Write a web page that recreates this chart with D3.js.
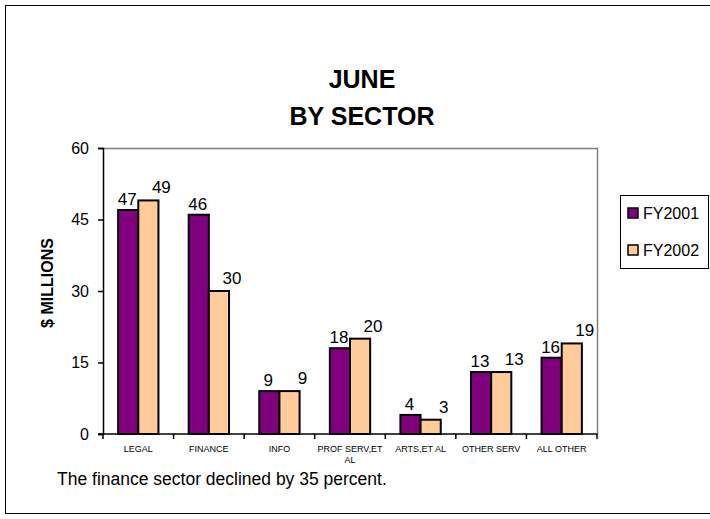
<!DOCTYPE html>
<html>
<head>
<meta charset="utf-8">
<script src="https://cdn.jsdelivr.net/npm/d3@7"></script>
<style>
  body { margin: 0; background: #fff; }
  text { font-family: "Liberation Sans", Arial, sans-serif; }
</style>
</head>
<body>
<div id="chart"></div>
<script>
// chart data
var sectors = ["LEGAL", "FINANCE", "INFO", "PROF SERV,ET AL", "ARTS,ET AL", "OTHER SERV", "ALL OTHER"];
var fy2001 = [47, 46, 9, 18, 4, 13, 16];
var fy2002 = [49, 30, 9, 20, 3, 13, 19];
var seriesNames = ["FY2001", "FY2002"];
var yTicks = [0, 15, 30, 45, 60];
var colors = ["#800080", "#FFCC99"];

var W = 710, H = 519;
var plot = {left: 103, right: 597, top: 148, bottom: 434};

var svg = d3.select("#chart")
  .append("svg")
	.attr("width", W)
	.attr("height", H);

// outer frame
svg.append("rect")
	.attr("x", 5.5).attr("y", 5.5)
	.attr("width", W).attr("height", 508)
	.attr("fill", "#fff")
	.attr("stroke", "#000")
	.attr("stroke-width", 1);

// title
svg.append("text")
	.attr("x", 362).attr("y", 88)
	.attr("text-anchor", "middle")
	.attr("font-size", "25px").attr("font-weight", "bold")
	.text("JUNE");
svg.append("text")
	.attr("x", 362).attr("y", 125)
	.attr("text-anchor", "middle")
	.attr("font-size", "25px").attr("font-weight", "bold")
	.text("BY SECTOR");

// scales
var x0 = d3.scaleBand()
	.domain(sectors)
	.range([plot.left, plot.right]);

var x1 = d3.scaleBand()
	.domain(seriesNames)
	.range([0, x0.bandwidth()])
	.paddingOuter(0.75);

var y = d3.scaleLinear()
	.domain([0, 60])
	.range([plot.bottom, plot.top]);

// grey plot frame (top, right)
svg.append("path")
	.attr("d", "M" + plot.left + "," + (plot.top + 0.5) + "H" + (plot.right + 0.5) + "V" + plot.bottom)
	.attr("fill", "none")
	.attr("stroke", "#808080")
	.attr("stroke-width", 1.5);

// bars
var rows = sectors.map(function (s, i) {
	return {sector: s, vals: [fy2001[i], fy2002[i]]};
});

var groups = svg.append("g")
  .selectAll("g")
	.data(rows)
	.enter()
	.append("g")
	.attr("transform", function (d) { return "translate(" + x0(d.sector) + ",0)"; });

groups.selectAll("rect")
	.data(function (d) { return d.vals.map(function (v, j) { return {name: seriesNames[j], v: v, j: j}; }); })
	.enter()
	.append("rect")
	  .attr("x", function (d) { return x1(d.name); })
	  .attr("y", function (d) { return y(d.v); })
	  .attr("width", x1.bandwidth())
	  .attr("height", function (d) { return y(0) - y(d.v); })
	  .attr("fill", function (d) { return colors[d.j]; })
	  .attr("stroke", "#000")
	  .attr("stroke-width", 2);

// value labels
groups.selectAll("text")
	.data(function (d) { return d.vals.map(function (v, j) { return {name: seriesNames[j], v: v, j: j}; }); })
	.enter()
	.append("text")
	  .attr("x", function (d) { return x1(d.name) + x1.bandwidth() / 2 + (d.j == 0 ? -1 : 13); })
	  .attr("y", function (d) { return y(d.v) - (d.j == 0 ? 5 : 7); })
	  .attr("text-anchor", "middle")
	  .attr("font-size", "17px")
	  .text(function (d) { return d.v; });

// Y axis
var yAxis = svg.append("g")
	.attr("transform", "translate(" + plot.left + ",0)")
	.call(d3.axisLeft(y).tickValues(yTicks).tickSize(5).tickPadding(9));
yAxis.selectAll("text").attr("font-size", "16px").attr("font-family", null).attr("fill", "#000");
yAxis.selectAll("line").attr("stroke", "#000").attr("stroke-width", 1.5);
yAxis.select(".domain").attr("stroke", "#000").attr("stroke-width", 1.5);

// X axis, ticks between categories
var xAxis = svg.append("g")
	.attr("transform", "translate(0," + plot.bottom + ")");
xAxis.append("line")
	.attr("x1", plot.left - 5).attr("x2", plot.right + 0.5)
	.attr("stroke", "#000").attr("stroke-width", 1.5);
xAxis.selectAll(".tick")
	.data(sectors.concat([null]))
	.enter()
	.append("line")
	  .attr("x1", function (d, i) { return i < sectors.length ? x0(d) : plot.right; })
	  .attr("x2", function (d, i) { return i < sectors.length ? x0(d) : plot.right; })
	  .attr("y1", 0).attr("y2", 5)
	  .attr("stroke", "#000").attr("stroke-width", 1.5);

xAxis.selectAll(".lbl")
	.data(sectors)
	.enter()
	.append("text")
	  .attr("text-anchor", "middle")
	  .attr("font-size", "9px")
	  .attr("y", 18)
	  .each(function (d) {
		var t = d3.select(this);
		var cx = x0(d) + x0.bandwidth() / 2;
		var parts = d == "PROF SERV,ET AL" ? ["PROF SERV,ET", "AL"] : [d];
		parts.forEach(function (p, k) {
			t.append("tspan").attr("x", cx).attr("dy", k == 0 ? 0 : 11).text(p);
		});
	  });

// Y axis title
svg.append("text")
	.attr("transform", "translate(53,283) rotate(-90)")
	.attr("text-anchor", "middle")
	.attr("font-size", "16px").attr("font-weight", "bold")
	.text("$ MILLIONS");

// legend
var legend = svg.append("g").attr("transform", "translate(620,195)");
legend.append("rect")
	.attr("x", 0.5).attr("y", 0.5)
	.attr("width", 88).attr("height", 73)
	.attr("fill", "#fff")
	.attr("stroke", "#000").attr("stroke-width", 1);
seriesNames.forEach(function (n, i) {
	legend.append("rect")
		.attr("x", 8).attr("y", 13 + i * 37)
		.attr("width", 10).attr("height", 10)
		.attr("fill", colors[i])
		.attr("stroke", "#000").attr("stroke-width", 1.5);
	legend.append("text")
		.attr("x", 23).attr("y", 24 + i * 37)
		.attr("font-size", "16px")
		.text(n);
});

// footnote
svg.append("text")
	.attr("x", 57).attr("y", 485)
	.attr("font-size", "17.5px")
	.text("The finance sector declined by 35 percent.");
</script>
</body>
</html>
